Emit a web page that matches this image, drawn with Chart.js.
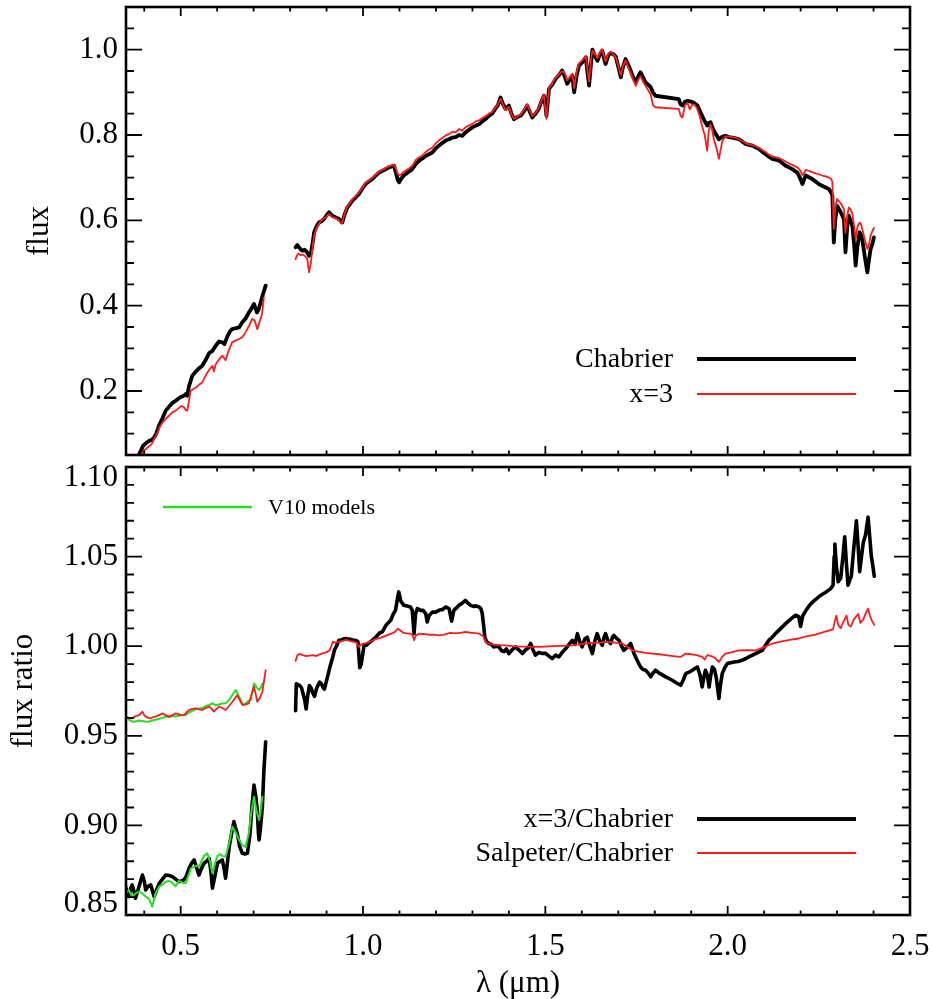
<!DOCTYPE html>
<html>
<head>
<meta charset="utf-8">
<title>Flux and flux ratio spectra</title>
<script src="https://cdn.jsdelivr.net/npm/chart.js@4.4.1/dist/chart.umd.min.js"></script>
<style>
  html, body { margin: 0; padding: 0; background: #fff; }
  #wrap { position: relative; width: 932px; height: 999px; overflow: hidden; }
  canvas { position: absolute; left: 0; }
  #fluxChart { top: 0; }
  #ratioChart { top: 440px; }
</style>
</head>
<body>
<div id="wrap">
  <canvas id="fluxChart" width="932" height="470"></canvas>
  <canvas id="ratioChart" width="932" height="559"></canvas>
</div>
<script>
/* ------------------------------------------------------------
   DATA
------------------------------------------------------------ */

// axes
const xMajorTicks = [0.5, 1.0, 1.5, 2.0, 2.5];
const xTickLabels = ["0.5", "1.0", "1.5", "2.0", "2.5"];
const fluxMajorTicks = [0.2, 0.4, 0.6, 0.8, 1.0];
const fluxTickLabels = ["0.2", "0.4", "0.6", "0.8", "1.0"];
const ratioMajorTicks = [0.85, 0.90, 0.95, 1.00, 1.05, 1.10];
const ratioTickLabels = ["0.85", "0.90", "0.95", "1.00", "1.05", "1.10"];

// top panel, optical part
const wlOptChabrier = [
  0.380, 0.397, 0.405, 0.413, 0.420, 0.427, 0.433, 0.440, 0.450, 0.459,
  0.468, 0.477, 0.486, 0.495, 0.500, 0.507, 0.514, 0.518, 0.523, 0.532,
  0.541, 0.550, 0.559, 0.568, 0.578, 0.587, 0.596, 0.605, 0.614, 0.620,
  0.628, 0.636, 0.641, 0.650, 0.660, 0.669, 0.678, 0.687, 0.696, 0.701,
  0.706, 0.709, 0.714, 0.718, 0.725, 0.733
];
const fluxChabrierOpt = [
  0.040, 0.072, 0.078, 0.083, 0.085, 0.091, 0.100, 0.118, 0.136, 0.154,
  0.163, 0.172, 0.177, 0.183, 0.186, 0.188, 0.193, 0.189, 0.212, 0.236,
  0.245, 0.253, 0.259, 0.272, 0.289, 0.294, 0.306, 0.316, 0.314, 0.310,
  0.328, 0.341, 0.345, 0.347, 0.349, 0.361, 0.370, 0.384, 0.396, 0.404,
  0.392, 0.384, 0.392, 0.404, 0.425, 0.447
];
const wlOptX3 = [
  0.380, 0.390, 0.399, 0.410, 0.420, 0.427, 0.435, 0.442, 0.450, 0.459,
  0.468, 0.477, 0.486, 0.495, 0.502, 0.509, 0.514, 0.518, 0.523, 0.527,
  0.536, 0.545, 0.552, 0.559, 0.566, 0.573, 0.580, 0.587, 0.591, 0.596,
  0.605, 0.614, 0.623, 0.632, 0.641, 0.650, 0.660, 0.669, 0.678, 0.687,
  0.696, 0.703, 0.710, 0.716, 0.723, 0.728
];
const fluxX3Opt = [
  0.030, 0.050, 0.060, 0.068, 0.075, 0.087, 0.100, 0.115, 0.126, 0.135,
  0.142, 0.150, 0.154, 0.160, 0.165, 0.162, 0.155, 0.154, 0.178, 0.200,
  0.205, 0.210, 0.216, 0.220, 0.232, 0.243, 0.252, 0.259, 0.246, 0.262,
  0.274, 0.283, 0.272, 0.296, 0.314, 0.318, 0.322, 0.326, 0.338, 0.352,
  0.369, 0.365, 0.345, 0.362, 0.380, 0.419
];

// top panel, near-infrared part (shared wavelength grid)
const wlNirFlux = [
  0.815, 0.820, 0.824, 0.829, 0.834, 0.840, 0.847, 0.852, 0.857, 0.862,
  0.866, 0.872, 0.879, 0.886, 0.893, 0.900, 0.907, 0.912, 0.916, 0.925,
  0.934, 0.939, 0.943, 0.950, 0.957, 0.964, 0.971, 0.980, 0.989, 0.998,
  1.007, 1.016, 1.026, 1.035, 1.044, 1.058, 1.071, 1.085, 1.090, 1.095,
  1.099, 1.105, 1.112, 1.124, 1.135, 1.145, 1.154, 1.163, 1.172, 1.181,
  1.190, 1.199, 1.208, 1.217, 1.227, 1.236, 1.245, 1.254, 1.263, 1.272,
  1.281, 1.290, 1.300, 1.309, 1.318, 1.327, 1.336, 1.345, 1.354, 1.363,
  1.370, 1.377, 1.384, 1.391, 1.400, 1.407, 1.414, 1.423, 1.432, 1.441,
  1.450, 1.457, 1.464, 1.473, 1.482, 1.489, 1.496, 1.500, 1.503, 1.507,
  1.510, 1.519, 1.528, 1.537, 1.546, 1.553, 1.560, 1.567, 1.574, 1.577,
  1.579, 1.585, 1.592, 1.601, 1.611, 1.615, 1.620, 1.625, 1.629, 1.636,
  1.643, 1.650, 1.656, 1.661, 1.665, 1.672, 1.679, 1.686, 1.693, 1.700,
  1.707, 1.713, 1.720, 1.727, 1.734, 1.741, 1.748, 1.755, 1.761, 1.768,
  1.775, 1.782, 1.789, 1.795, 1.802, 1.866, 1.871, 1.876, 1.883, 1.890,
  1.896, 1.903, 1.910, 1.917, 1.923, 1.930, 1.937, 1.944, 1.948, 1.953,
  1.958, 1.962, 1.969, 1.976, 1.985, 1.994, 2.003, 2.013, 2.022, 2.031,
  2.040, 2.049, 2.058, 2.068, 2.077, 2.086, 2.095, 2.104, 2.113, 2.122,
  2.131, 2.141, 2.150, 2.159, 2.168, 2.177, 2.184, 2.191, 2.198, 2.205,
  2.210, 2.214, 2.223, 2.232, 2.241, 2.250, 2.259, 2.269, 2.278, 2.284,
  2.287, 2.291, 2.295, 2.300, 2.305, 2.310, 2.315, 2.319, 2.323, 2.328,
  2.332, 2.337, 2.342, 2.347, 2.351, 2.356, 2.362, 2.366, 2.369, 2.376,
  2.383, 2.388, 2.392, 2.397, 2.401
];
const fluxChabrierNir = [
  0.537, 0.542, 0.537, 0.532, 0.529, 0.531, 0.525, 0.517, 0.522, 0.548,
  0.572, 0.585, 0.595, 0.598, 0.603, 0.612, 0.619, 0.614, 0.611, 0.607,
  0.603, 0.598, 0.595, 0.615, 0.630, 0.638, 0.646, 0.654, 0.662, 0.674,
  0.685, 0.691, 0.697, 0.705, 0.712, 0.718, 0.724, 0.728, 0.712, 0.695,
  0.689, 0.698, 0.705, 0.713, 0.720, 0.732, 0.740, 0.745, 0.751, 0.755,
  0.759, 0.768, 0.775, 0.781, 0.787, 0.790, 0.794, 0.795, 0.800, 0.798,
  0.806, 0.812, 0.818, 0.822, 0.825, 0.832, 0.837, 0.845, 0.850, 0.862,
  0.870, 0.888, 0.872, 0.861, 0.869, 0.850, 0.837, 0.842, 0.845, 0.855,
  0.869, 0.855, 0.841, 0.850, 0.861, 0.878, 0.892, 0.870, 0.845, 0.880,
  0.908, 0.918, 0.931, 0.940, 0.951, 0.938, 0.920, 0.930, 0.939, 0.915,
  0.900, 0.935, 0.962, 0.970, 0.982, 0.950, 0.916, 0.965, 1.000, 0.985,
  0.974, 0.990, 0.998, 0.980, 0.966, 0.985, 0.992, 0.990, 0.984, 0.960,
  0.935, 0.960, 0.978, 0.965, 0.951, 0.935, 0.923, 0.938, 0.947, 0.935,
  0.923, 0.918, 0.912, 0.900, 0.892, 0.884, 0.872, 0.869, 0.878, 0.880,
  0.879, 0.877, 0.874, 0.869, 0.858, 0.845, 0.832, 0.822, 0.828, 0.830,
  0.818, 0.810, 0.800, 0.790, 0.796, 0.798, 0.795, 0.794, 0.792, 0.790,
  0.785, 0.779, 0.777, 0.775, 0.771, 0.767, 0.761, 0.755, 0.749, 0.744,
  0.742, 0.740, 0.734, 0.728, 0.724, 0.720, 0.716, 0.712, 0.700, 0.685,
  0.697, 0.705, 0.701, 0.697, 0.691, 0.685, 0.681, 0.677, 0.673, 0.665,
  0.658, 0.548, 0.600, 0.634, 0.627, 0.619, 0.610, 0.603, 0.525, 0.585,
  0.611, 0.600, 0.587, 0.540, 0.494, 0.540, 0.572, 0.565, 0.556, 0.515,
  0.478, 0.510, 0.533, 0.545, 0.560
];
const fluxX3Nir = [
  0.509, 0.520, 0.522, 0.518, 0.520, 0.517, 0.510, 0.478, 0.500, 0.540,
  0.565, 0.580, 0.592, 0.600, 0.604, 0.610, 0.614, 0.610, 0.607, 0.605,
  0.600, 0.593, 0.595, 0.617, 0.632, 0.640, 0.650, 0.656, 0.666, 0.676,
  0.688, 0.693, 0.700, 0.708, 0.714, 0.721, 0.727, 0.730, 0.722, 0.710,
  0.705, 0.708, 0.714, 0.720, 0.728, 0.742, 0.748, 0.752, 0.760, 0.766,
  0.770, 0.780, 0.787, 0.793, 0.799, 0.802, 0.808, 0.806, 0.814, 0.810,
  0.818, 0.822, 0.826, 0.832, 0.834, 0.840, 0.844, 0.850, 0.854, 0.864,
  0.872, 0.885, 0.870, 0.858, 0.866, 0.848, 0.838, 0.843, 0.848, 0.858,
  0.872, 0.858, 0.845, 0.852, 0.864, 0.880, 0.895, 0.860, 0.838, 0.882,
  0.910, 0.921, 0.934, 0.942, 0.950, 0.945, 0.928, 0.936, 0.944, 0.925,
  0.910, 0.945, 0.968, 0.975, 0.985, 0.955, 0.925, 0.975, 0.998, 0.990,
  0.980, 0.995, 1.000, 0.985, 0.972, 0.990, 0.995, 0.990, 0.982, 0.962,
  0.940, 0.962, 0.975, 0.960, 0.945, 0.930, 0.915, 0.930, 0.938, 0.925,
  0.915, 0.905, 0.895, 0.870, 0.865, 0.861, 0.845, 0.841, 0.870, 0.875,
  0.860, 0.872, 0.870, 0.860, 0.845, 0.820, 0.800, 0.763, 0.810, 0.825,
  0.810, 0.790, 0.770, 0.744, 0.785, 0.797, 0.796, 0.795, 0.793, 0.790,
  0.786, 0.781, 0.778, 0.776, 0.773, 0.770, 0.765, 0.760, 0.754, 0.750,
  0.748, 0.746, 0.742, 0.738, 0.733, 0.730, 0.727, 0.724, 0.718, 0.706,
  0.712, 0.718, 0.716, 0.713, 0.710, 0.708, 0.705, 0.703, 0.700, 0.697,
  0.690, 0.580, 0.630, 0.650, 0.645, 0.640, 0.632, 0.625, 0.571, 0.610,
  0.630, 0.625, 0.615, 0.585, 0.556, 0.585, 0.595, 0.590, 0.580, 0.555,
  0.533, 0.545, 0.565, 0.575, 0.582
];

// bottom panel, optical part
const wlOptRatioX3 = [
  0.349, 0.354, 0.358, 0.363, 0.367, 0.372, 0.376, 0.386, 0.395, 0.400,
  0.404, 0.411, 0.418, 0.422, 0.427, 0.434, 0.441, 0.450, 0.459, 0.468,
  0.477, 0.486, 0.495, 0.502, 0.509, 0.516, 0.523, 0.530, 0.537, 0.544,
  0.550, 0.557, 0.564, 0.571, 0.578, 0.583, 0.587, 0.594, 0.601, 0.608,
  0.614, 0.619, 0.623, 0.628, 0.633, 0.640, 0.646, 0.650, 0.655, 0.662,
  0.669, 0.676, 0.683, 0.690, 0.696, 0.701, 0.706, 0.710, 0.713, 0.715,
  0.719, 0.724, 0.728, 0.733
];
const ratioX3Opt = [
  0.8658, 0.8620, 0.8603, 0.8650, 0.8668, 0.8630, 0.8593, 0.8660, 0.8723, 0.8690,
  0.8640, 0.8660, 0.8668, 0.8640, 0.8603, 0.8640, 0.8677, 0.8700, 0.8723, 0.8720,
  0.8714, 0.8700, 0.8686, 0.8690, 0.8696, 0.8720, 0.8761, 0.8790, 0.8807, 0.8760,
  0.8723, 0.8760, 0.8789, 0.8800, 0.8816, 0.8740, 0.8650, 0.8720, 0.8789, 0.8800,
  0.8807, 0.8760, 0.8705, 0.8790, 0.8881, 0.8960, 0.9021, 0.8990, 0.8956, 0.8880,
  0.8844, 0.8840, 0.8844, 0.8950, 0.9120, 0.9225, 0.9160, 0.9086, 0.8960, 0.8919,
  0.8990, 0.9104, 0.9300, 0.9467
];
const wlOptRatioSalp = [
  0.349, 0.358, 0.367, 0.376, 0.386, 0.395, 0.400, 0.404, 0.411, 0.418,
  0.425, 0.431, 0.440, 0.450, 0.459, 0.468, 0.477, 0.486, 0.495, 0.502,
  0.509, 0.516, 0.523, 0.532, 0.541, 0.550, 0.559, 0.568, 0.578, 0.585,
  0.591, 0.598, 0.605, 0.614, 0.623, 0.632, 0.642, 0.649, 0.655, 0.662,
  0.669, 0.678, 0.687, 0.694, 0.701, 0.706, 0.710, 0.717, 0.724, 0.728,
  0.733
];
const ratioSalpOpt = [
  0.9607, 0.9600, 0.9597, 0.9610, 0.9616, 0.9635, 0.9615, 0.9607, 0.9600, 0.9597,
  0.9605, 0.9607, 0.9615, 0.9625, 0.9615, 0.9607, 0.9615, 0.9625, 0.9620, 0.9615,
  0.9616, 0.9630, 0.9644, 0.9650, 0.9653, 0.9648, 0.9644, 0.9655, 0.9662, 0.9650,
  0.9635, 0.9650, 0.9662, 0.9655, 0.9644, 0.9665, 0.9690, 0.9710, 0.9727, 0.9700,
  0.9672, 0.9675, 0.9681, 0.9730, 0.9774, 0.9730, 0.9690, 0.9710, 0.9746, 0.9800,
  0.9867
];
// V10 models (optical only)
const wlV10X3 = [
  0.349, 0.358, 0.367, 0.376, 0.386, 0.395, 0.404, 0.413, 0.422, 0.431,
  0.441, 0.450, 0.459, 0.468, 0.477, 0.486, 0.495, 0.505, 0.514, 0.521,
  0.528, 0.537, 0.545, 0.550, 0.557, 0.564, 0.573, 0.580, 0.587, 0.594,
  0.601, 0.608, 0.614, 0.623, 0.633, 0.642, 0.651, 0.660, 0.669, 0.678,
  0.687, 0.694, 0.701, 0.708, 0.715, 0.719, 0.724
];
const ratioV10X3 = [
  0.8620, 0.8640, 0.8600, 0.8621, 0.8630, 0.8620, 0.8603, 0.8590, 0.8547, 0.8620,
  0.8658, 0.8670, 0.8686, 0.8690, 0.8680, 0.8660, 0.8690, 0.8680, 0.8677, 0.8720,
  0.8760, 0.8770, 0.8775, 0.8770, 0.8800, 0.8830, 0.8844, 0.8800, 0.8733, 0.8790,
  0.8830, 0.8840, 0.8830, 0.8826, 0.8900, 0.8993, 0.8960, 0.8920, 0.8890, 0.8880,
  0.8960, 0.9080, 0.9160, 0.9080, 0.9030, 0.9080, 0.9160
];
const wlV10Salp = [
  0.358, 0.367, 0.376, 0.386, 0.395, 0.404, 0.413, 0.422, 0.431, 0.441,
  0.450, 0.459, 0.468, 0.477, 0.486, 0.495, 0.505, 0.514, 0.523, 0.532,
  0.541, 0.550, 0.559, 0.568, 0.578, 0.587, 0.596, 0.605, 0.614, 0.623,
  0.633, 0.642, 0.651, 0.660, 0.669, 0.674, 0.683, 0.692, 0.697, 0.701,
  0.708, 0.715, 0.720, 0.724
];
const ratioV10Salp = [
  0.9590, 0.9579, 0.9580, 0.9585, 0.9582, 0.9580, 0.9579, 0.9585, 0.9590, 0.9595,
  0.9600, 0.9607, 0.9605, 0.9610, 0.9608, 0.9612, 0.9614, 0.9616, 0.9630, 0.9640,
  0.9648, 0.9653, 0.9655, 0.9665, 0.9672, 0.9681, 0.9670, 0.9675, 0.9680, 0.9681,
  0.9700, 0.9730, 0.9755, 0.9720, 0.9680, 0.9672, 0.9690, 0.9700, 0.9750, 0.9792,
  0.9770, 0.9755, 0.9770, 0.9792
];

// bottom panel, near-infrared part
const wlNirRatioX3 = [
  0.815, 0.817, 0.822, 0.826, 0.831, 0.835, 0.840, 0.844, 0.848, 0.853,
  0.858, 0.862, 0.867, 0.872, 0.876, 0.881, 0.886, 0.890, 0.894, 0.899,
  0.904, 0.910, 0.917, 0.922, 0.927, 0.934, 0.940, 0.947, 0.952, 0.960,
  0.966, 0.972, 0.980, 0.986, 0.991, 0.995, 1.003, 1.009, 1.017, 1.025,
  1.035, 1.046, 1.053, 1.064, 1.076, 1.083, 1.089, 1.094, 1.098, 1.104,
  1.112, 1.120, 1.130, 1.135, 1.140, 1.144, 1.149, 1.158, 1.165, 1.172,
  1.176, 1.181, 1.190, 1.199, 1.208, 1.218, 1.227, 1.236, 1.243, 1.249,
  1.257, 1.263, 1.272, 1.281, 1.288, 1.295, 1.303, 1.310, 1.318, 1.323,
  1.327, 1.331, 1.334, 1.339, 1.345, 1.352, 1.358, 1.366, 1.373, 1.380,
  1.387, 1.393, 1.400, 1.409, 1.418, 1.427, 1.437, 1.446, 1.453, 1.460,
  1.466, 1.473, 1.482, 1.491, 1.501, 1.510, 1.519, 1.528, 1.537, 1.546,
  1.556, 1.565, 1.574, 1.581, 1.588, 1.595, 1.601, 1.608, 1.615, 1.622,
  1.629, 1.636, 1.642, 1.649, 1.656, 1.661, 1.665, 1.672, 1.679, 1.684,
  1.688, 1.695, 1.702, 1.709, 1.715, 1.725, 1.734, 1.739, 1.743, 1.752,
  1.761, 1.768, 1.775, 1.782, 1.789, 1.795, 1.802, 1.812, 1.821, 1.830,
  1.839, 1.848, 1.860, 1.871, 1.878, 1.885, 1.894, 1.903, 1.910, 1.917,
  1.924, 1.930, 1.935, 1.939, 1.944, 1.949, 1.953, 1.958, 1.964, 1.969,
  1.976, 1.980, 1.985, 1.992, 1.999, 2.008, 2.017, 2.028, 2.040, 2.049,
  2.058, 2.068, 2.077, 2.086, 2.095, 2.104, 2.113, 2.122, 2.131, 2.145,
  2.159, 2.172, 2.186, 2.195, 2.200, 2.206, 2.215, 2.225, 2.235, 2.244,
  2.252, 2.260, 2.268, 2.275, 2.282, 2.289, 2.292, 2.294, 2.298, 2.303,
  2.310, 2.316, 2.321, 2.326, 2.330, 2.335, 2.339, 2.346, 2.353, 2.358,
  2.362, 2.367, 2.372, 2.378, 2.385, 2.390, 2.394, 2.398, 2.402
];
const ratioX3Nir = [
  0.9640, 0.9790, 0.9785, 0.9780, 0.9770, 0.9740, 0.9700, 0.9650, 0.9720, 0.9780,
  0.9765, 0.9740, 0.9720, 0.9760, 0.9780, 0.9800, 0.9790, 0.9770, 0.9760, 0.9800,
  0.9840, 0.9890, 0.9940, 0.9980, 1.0000, 1.0033, 1.0035, 1.0040, 1.0043, 1.0040,
  1.0038, 1.0035, 1.0033, 1.0025, 0.9880, 0.9900, 1.0005, 1.0005, 1.0020, 1.0033,
  1.0050, 1.0075, 1.0080, 1.0120, 1.0145, 1.0180, 1.0200, 1.0260, 1.0303, 1.0250,
  1.0228, 1.0225, 1.0219, 1.0200, 1.0070, 1.0180, 1.0210, 1.0200, 1.0200, 1.0182,
  1.0135, 1.0170, 1.0190, 1.0190, 1.0200, 1.0205, 1.0219, 1.0210, 1.0140, 1.0200,
  1.0215, 1.0228, 1.0240, 1.0256, 1.0240, 1.0228, 1.0222, 1.0225, 1.0219, 1.0210,
  1.0182, 1.0110, 1.0050, 1.0025, 1.0015, 1.0010, 0.9996, 1.0000, 0.9996, 0.9975,
  0.9970, 0.9985, 0.9959, 0.9980, 0.9996, 0.9980, 0.9959, 0.9980, 0.9990, 1.0015,
  0.9980, 0.9950, 0.9965, 0.9960, 0.9960, 0.9945, 0.9931, 0.9950, 0.9940, 0.9965,
  0.9987, 1.0010, 1.0033, 1.0010, 1.0070, 1.0020, 0.9996, 1.0040, 1.0050, 1.0000,
  0.9959, 1.0030, 1.0070, 1.0030, 1.0005, 1.0050, 1.0070, 1.0030, 1.0015, 1.0050,
  1.0060, 1.0045, 1.0033, 1.0000, 0.9977, 0.9995, 1.0015, 0.9985, 0.9959, 0.9920,
  0.9884, 0.9870, 0.9866, 0.9850, 0.9829, 0.9850, 0.9866, 0.9850, 0.9840, 0.9829,
  0.9820, 0.9810, 0.9795, 0.9782, 0.9810, 0.9847, 0.9855, 0.9866, 0.9875, 0.9884,
  0.9840, 0.9773, 0.9830, 0.9866, 0.9840, 0.9773, 0.9830, 0.9884, 0.9870, 0.9820,
  0.9708, 0.9780, 0.9847, 0.9880, 0.9903, 0.9908, 0.9912, 0.9915, 0.9922, 0.9930,
  0.9940, 0.9950, 0.9959, 0.9968, 0.9977, 1.0005, 1.0033, 1.0050, 1.0070, 1.0098,
  1.0126, 1.0150, 1.0173, 1.0165, 1.0110, 1.0170, 1.0200, 1.0230, 1.0250, 1.0265,
  1.0280, 1.0290, 1.0300, 1.0310, 1.0320, 1.0340, 1.0500, 1.0570, 1.0450, 1.0360,
  1.0380, 1.0500, 1.0610, 1.0450, 1.0340, 1.0370, 1.0390, 1.0550, 1.0700, 1.0550,
  1.0416, 1.0500, 1.0580, 1.0620, 1.0720, 1.0600, 1.0500, 1.0450, 1.0390
];
const wlNirRatioSalp = [
  0.815, 0.820, 0.826, 0.835, 0.844, 0.853, 0.862, 0.872, 0.881, 0.890,
  0.899, 0.908, 0.913, 0.917, 0.925, 0.934, 0.944, 0.954, 0.963, 0.972,
  0.982, 0.989, 0.995, 1.003, 1.012, 1.025, 1.035, 1.046, 1.058, 1.070,
  1.083, 1.090, 1.096, 1.104, 1.110, 1.120, 1.130, 1.136, 1.140, 1.145,
  1.153, 1.165, 1.180, 1.193, 1.208, 1.222, 1.239, 1.255, 1.270, 1.281,
  1.295, 1.303, 1.318, 1.326, 1.330, 1.336, 1.345, 1.360, 1.376, 1.391,
  1.410, 1.430, 1.450, 1.470, 1.482, 1.500, 1.520, 1.540, 1.560, 1.574,
  1.590, 1.610, 1.630, 1.650, 1.665, 1.680, 1.695, 1.711, 1.725, 1.738,
  1.755, 1.775, 1.793, 1.812, 1.830, 1.850, 1.871, 1.885, 1.900, 1.915,
  1.930, 1.937, 1.944, 1.955, 1.965, 1.976, 1.985, 1.994, 2.010, 2.031,
  2.055, 2.077, 2.100, 2.122, 2.145, 2.170, 2.195, 2.215, 2.240, 2.265,
  2.289, 2.294, 2.298, 2.303, 2.310, 2.318, 2.326, 2.331, 2.338, 2.346,
  2.358, 2.364, 2.372, 2.380, 2.385, 2.390, 2.396, 2.402
];
const ratioSalpNir = [
  0.9918, 0.9950, 0.9957, 0.9950, 0.9945, 0.9947, 0.9950, 0.9945, 0.9955, 0.9960,
  0.9965, 0.9977, 1.0000, 1.0025, 1.0020, 1.0024, 1.0030, 1.0035, 1.0030, 1.0025,
  1.0020, 0.9996, 1.0010, 1.0015, 1.0020, 1.0030, 1.0040, 1.0045, 1.0055, 1.0065,
  1.0074, 1.0085, 1.0098, 1.0085, 1.0074, 1.0072, 1.0070, 1.0060, 1.0033, 1.0060,
  1.0070, 1.0068, 1.0064, 1.0064, 1.0060, 1.0065, 1.0074, 1.0072, 1.0076, 1.0080,
  1.0075, 1.0074, 1.0070, 1.0060, 1.0055, 1.0024, 1.0015, 1.0008, 1.0006, 1.0005,
  1.0000, 0.9998, 0.9998, 0.9997, 0.9996, 0.9998, 1.0000, 1.0002, 1.0003, 1.0005,
  1.0010, 1.0015, 1.0018, 1.0020, 1.0024, 1.0022, 1.0018, 1.0015, 0.9995, 0.9977,
  0.9970, 0.9963, 0.9959, 0.9955, 0.9950, 0.9945, 0.9940, 0.9959, 0.9955, 0.9950,
  0.9940, 0.9925, 0.9950, 0.9945, 0.9935, 0.9912, 0.9940, 0.9959, 0.9965, 0.9977,
  0.9978, 0.9977, 0.9995, 1.0015, 1.0025, 1.0035, 1.0043, 1.0055, 1.0065, 1.0080,
  1.0094, 1.0140, 1.0170, 1.0120, 1.0100, 1.0140, 1.0170, 1.0120, 1.0110, 1.0150,
  1.0180, 1.0130, 1.0150, 1.0190, 1.0210, 1.0170, 1.0140, 1.0120
];

/* ------------------------------------------------------------
   STYLE
------------------------------------------------------------ */
const SERIF = "'Liberation Serif', 'Times New Roman', serif";
const BLACK = "#000000";
const RED = "#ff1a1a";
const GREEN = "#22e022";

/* ------------------------------------------------------------
   HELPERS
------------------------------------------------------------ */
function pts(wl, vals) {
  return wl.map((x, i) => ({ x: x, y: vals[i] }));
}

// evenly spaced tick values for the minor marks
function tickRange(from, to, step) {
  const out = [];
  const n = Math.round((to - from) / step);
  for (let i = 0; i <= n; i++) out.push(+(from + i * step).toFixed(4));
  return out;
}

function line(data, color, width, order) {
  return {
    data: data,
    borderColor: color,
    borderWidth: width,
    pointRadius: 0,
    tension: 0,
    borderJoinStyle: "round",
    borderCapStyle: "round",
    clip: 0,
    order: order
  };
}

/* ------------------------------------------------------------
   FRAME, INWARD TICKS, Y LABELS AND LEGEND (IDL look)
------------------------------------------------------------ */
const idlFrame = {
  id: "idlFrame",
  afterDraw(chart, args, opts) {
    const { ctx, chartArea: a } = chart;
    const x = chart.scales.x;
    const y = chart.scales.y;
    ctx.save();
    ctx.strokeStyle = BLACK;
    ctx.lineCap = "butt";

    // tick marks on all four sides, pointing inwards
    ctx.lineWidth = 1.8;
    ctx.beginPath();
    opts.xMinor.forEach(v => {
      const px = x.getPixelForValue(v);
      const len = xMajorTicks.some(m => Math.abs(m - v) < 1e-6) ? 9 : 4.5;
      ctx.moveTo(px, a.bottom); ctx.lineTo(px, a.bottom - len);
      ctx.moveTo(px, a.top); ctx.lineTo(px, a.top + len);
    });
    opts.yMinor.forEach(v => {
      const py = y.getPixelForValue(v);
      const len = opts.yMajor.some(m => Math.abs(m - v) < 1e-6) ? 16 : 8;
      ctx.moveTo(a.left, py); ctx.lineTo(a.left + len, py);
      ctx.moveTo(a.right, py); ctx.lineTo(a.right - len, py);
    });
    ctx.stroke();

    // frame
    ctx.lineWidth = 2.6;
    ctx.strokeRect(a.left, a.top, a.right - a.left, a.bottom - a.top);

    // y tick labels (edge labels nudged inside like IDL)
    ctx.fillStyle = BLACK;
    ctx.font = "31px " + SERIF;
    ctx.textAlign = "right";
    ctx.textBaseline = "middle";
    opts.yMajor.forEach((v, i) => {
      let py = y.getPixelForValue(v);
      if (py < a.top + 4) py = a.top + 11;
      if (py > a.bottom - 4) py = a.bottom - 11;
      ctx.fillText(opts.yLabels[i], a.left - 8, py);
    });

    // legend: label then sample line
    opts.legend.forEach(item => {
      ctx.font = item.font + " " + SERIF;
      ctx.strokeStyle = item.color;
      ctx.lineWidth = item.width;
      ctx.beginPath();
      ctx.moveTo(item.x0, item.y);
      ctx.lineTo(item.x1, item.y);
      ctx.stroke();
      ctx.fillStyle = BLACK;
      ctx.textAlign = item.align;
      ctx.fillText(item.text, item.tx, item.y + 1);
    });
    ctx.restore();
  }
};

function xScale(showLabels, height) {
  return {
    type: "linear",
    min: 0.35,
    max: 2.5,
    grid: { display: false, drawTicks: false },
    border: { display: false },
    afterBuildTicks: axis => {
      axis.ticks = xMajorTicks.map(v => ({ value: v }));
    },
    ticks: {
      display: showLabels,
      autoSkip: false,
      maxRotation: 0,
      padding: 13,
      color: BLACK,
      font: { family: SERIF, size: 31 },
      callback: (v, i) => xTickLabels[i]
    },
    title: {
      display: showLabels,
      text: "λ (μm)",
      color: BLACK,
      font: { family: SERIF, size: 31, lineHeight: 1 },
      padding: { top: 0, bottom: 0 }
    },
    afterFit: s => {
      s.height = height;
      s.paddingLeft = 0;
      s.paddingRight = 0;
    }
  };
}

function yScale(min, max, title, titlePad) {
  return {
    type: "linear",
    min: min,
    max: max,
    grid: { display: false, drawTicks: false },
    border: { display: false },
    ticks: { display: false },
    title: {
      display: true,
      text: title,
      color: BLACK,
      font: { family: SERIF, size: 31, lineHeight: 1 },
      padding: { top: titlePad, bottom: 0 }
    },
    afterFit: s => {
      s.width = 126;
      s.paddingTop = 0;
      s.paddingBottom = 0;
    }
  };
}

/* ------------------------------------------------------------
   TOP PANEL — FLUX
------------------------------------------------------------ */
new Chart(document.getElementById("fluxChart").getContext("2d"), {
  type: "line",
  data: {
    datasets: [
      line(pts(wlOptChabrier, fluxChabrierOpt), BLACK, 3.8, 2),
      line(pts(wlNirFlux, fluxChabrierNir), BLACK, 3.8, 2),
      line(pts(wlOptX3, fluxX3Opt), RED, 1.8, 1),
      line(pts(wlNirFlux, fluxX3Nir), RED, 1.8, 1)
    ]
  },
  options: {
    responsive: false,
    animation: false,
    events: [],
    layout: { padding: { top: 7, right: 22, left: 0, bottom: 0 } },
    scales: {
      x: xScale(false, 15),
      y: yScale(0.05, 1.10, "flux", 24)
    },
    plugins: {
      legend: { display: false },
      tooltip: { enabled: false },
      idlFrame: {
        xMinor: tickRange(0.4, 2.5, 0.1),
        yMajor: fluxMajorTicks,
        yLabels: fluxTickLabels,
        yMinor: tickRange(0.1, 1.05, 0.05),
        legend: [
          { text: "Chabrier", color: BLACK, width: 4, font: "28px", align: "right", tx: 673, x0: 697, x1: 856, y: 359 },
          { text: "x=3", color: RED, width: 2, font: "28px", align: "right", tx: 673, x0: 697, x1: 856, y: 394 }
        ]
      }
    }
  },
  plugins: [idlFrame]
});

/* ------------------------------------------------------------
   BOTTOM PANEL — FLUX RATIO
------------------------------------------------------------ */
new Chart(document.getElementById("ratioChart").getContext("2d"), {
  type: "line",
  data: {
    datasets: [
      line(pts(wlOptRatioX3, ratioX3Opt), BLACK, 3.6, 3),
      line(pts(wlNirRatioX3, ratioX3Nir), BLACK, 3.6, 3),
      line(pts(wlV10X3, ratioV10X3), GREEN, 2, 2),
      line(pts(wlV10Salp, ratioV10Salp), GREEN, 2, 2),
      line(pts(wlOptRatioSalp, ratioSalpOpt), RED, 1.8, 1),
      line(pts(wlNirRatioSalp, ratioSalpNir), RED, 1.8, 1)
    ]
  },
  options: {
    responsive: false,
    animation: false,
    events: [],
    layout: { padding: { top: 27, right: 22, left: 0, bottom: 0 } },
    scales: {
      x: xScale(true, 84),
      y: yScale(0.85, 1.10, "flux ratio", 8)
    },
    plugins: {
      legend: { display: false },
      tooltip: { enabled: false },
      idlFrame: {
        xMinor: tickRange(0.4, 2.5, 0.1),
        yMajor: ratioMajorTicks,
        yLabels: ratioTickLabels,
        yMinor: tickRange(0.85, 1.10, 0.01),
        legend: [
          { text: "V10 models", color: GREEN, width: 2.5, font: "22px", align: "left", tx: 268, x0: 163, x1: 252, y: 67 },
          { text: "x=3/Chabrier", color: BLACK, width: 4, font: "28px", align: "right", tx: 673, x0: 697, x1: 856, y: 379 },
          { text: "Salpeter/Chabrier", color: RED, width: 2, font: "28px", align: "right", tx: 673, x0: 697, x1: 856, y: 413 }
        ]
      }
    }
  },
  plugins: [idlFrame]
});
</script>
</body>
</html>
